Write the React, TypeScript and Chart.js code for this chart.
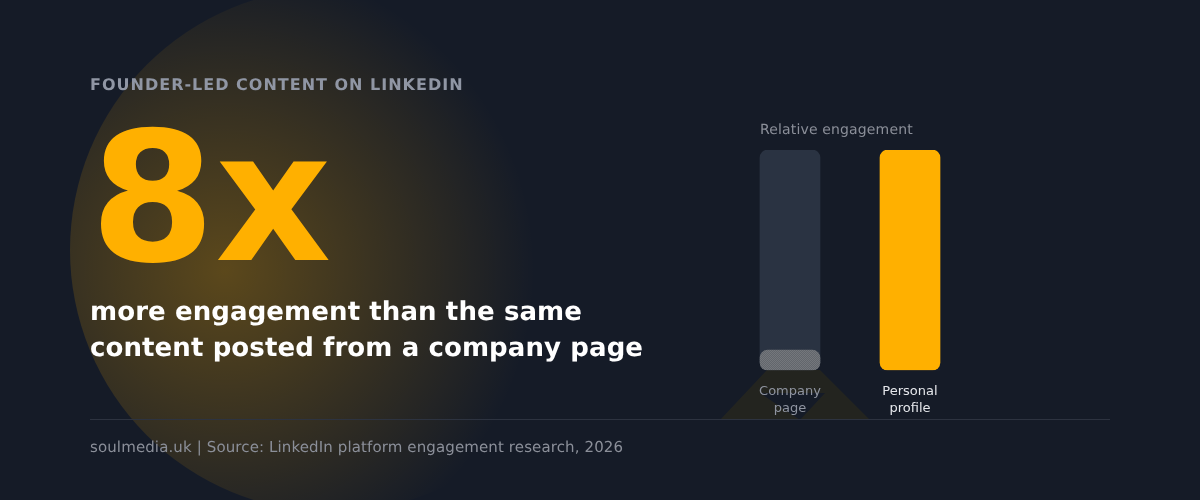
import { useEffect, useRef } from "react";
import { Chart, registerables } from "chart.js";

Chart.register(...registerables);

const FONT = "'DejaVu Sans', sans-serif";

const categories = [["Company", "page"], ["Personal", "profile"]];
const trackValues = [100, 0];
const engagementValues = [9.1, 100];
const tickColors = ["#8f94a0", "#e5e7eb"];
const subtitleLines = ["more engagement than the same", "content posted from a company page"];

// the company bar has a fine dotted texture in the reference
function dottedFill() {
  const tile = document.createElement("canvas");
  tile.width = 2;
  tile.height = 2;
  const t = tile.getContext("2d")!;
  t.fillStyle = "#62666c";
  t.fillRect(0, 0, 2, 2);
  t.fillStyle = "#74777c";
  t.fillRect(0, 0, 1, 1);
  t.fillRect(1, 1, 1, 1);
  return t.createPattern(tile, "repeat")!;
}

function label(ctx: any, text: string, x: number, y: number, font: string, color: string, spacing: number) {
  ctx.font = font;
  ctx.letterSpacing = `${spacing}px`;
  ctx.fillStyle = color;
  ctx.fillText(text, x, y);
}

// everything that is not a bar goes on the canvas around the chart area
const backdrop = {
  id: "backdrop",
  beforeDraw(chart: any) {
    const ctx = chart.ctx;
    ctx.save();
    ctx.fillStyle = "#151b27";
    ctx.fillRect(0, 0, 1200, 500);

    const glow = ctx.createRadialGradient(225, 270, 0, 225, 270, 310);
    glow.addColorStop(0, "rgba(255,176,0,0.3)");
    glow.addColorStop(1, "rgba(255,176,0,0)");
    ctx.fillStyle = glow;
    ctx.beginPath();
    ctx.arc(332, 250, 262, 0, Math.PI * 2);
    ctx.fill();

    // faint shape under the company bar, with a wedge cut out behind the label
    ctx.fillStyle = "rgba(96,77,0,0.2)";
    ctx.beginPath();
    ctx.moveTo(767, 370);
    ctx.lineTo(820, 370);
    ctx.lineTo(870, 420);
    ctx.lineTo(720, 420);
    ctx.closePath();
    ctx.moveTo(760, 393);
    ctx.lineTo(825, 393);
    ctx.lineTo(800, 420);
    ctx.closePath();
    ctx.fill("evenodd");

    ctx.strokeStyle = "#2d3340";
    ctx.lineWidth = 1;
    ctx.beginPath();
    ctx.moveTo(90, 419.5);
    ctx.lineTo(1110, 419.5);
    ctx.stroke();
    ctx.restore();
  },
  afterDraw(chart: any) {
    const ctx = chart.ctx;
    ctx.save();
    ctx.textBaseline = "alphabetic";
    ctx.textAlign = "left";

    ctx.font = `bold 180px ${FONT}`;
    ctx.fillStyle = "#ffb000";
    ctx.fillText("8x", 90, 260);

    ctx.textRendering = "geometricPrecision";
    label(ctx, "FOUNDER-LED CONTENT ON LINKEDIN", 90, 90, `bold 16px ${FONT}`, "#9096a4", 1);
    label(ctx, subtitleLines[0], 90, 320, `bold 26px ${FONT}`, "#ffffff", 0.1);
    label(ctx, subtitleLines[1], 90, 356, `bold 26px ${FONT}`, "#ffffff", 0.1);
    label(ctx, "Relative engagement", 760, 134, `14px ${FONT}`, "#8b8f99", 0.15);
    label(
      ctx,
      "soulmedia.uk | Source: LinkedIn platform engagement research, 2026",
      90,
      452,
      `15px ${FONT}`,
      "#8b8f99",
      0.12
    );
    ctx.restore();
  },
};

export default function App() {
  const canvasRef = useRef<HTMLCanvasElement>(null);

  useEffect(() => {
    document.body.style.margin = "0";
    const chart = new Chart(canvasRef.current!, {
      type: "bar",
      data: {
        labels: categories,
        datasets: [
          {
            data: trackValues,
            backgroundColor: "#2a3342",
            borderRadius: 8,
            borderSkipped: false,
            barThickness: 60,
            grouped: false,
            order: 2,
          },
          {
            data: engagementValues,
            backgroundColor: [dottedFill(), "#ffb000"],
            borderRadius: 8,
            borderSkipped: false,
            barThickness: 60,
            grouped: false,
            order: 1,
          },
        ],
      },
      options: {
        animation: false,
        responsive: false,
        layout: { padding: { left: 730, right: 230, top: 150, bottom: 78 } },
        plugins: { legend: { display: false }, tooltip: { enabled: false } },
        scales: {
          x: {
            grid: { display: false },
            border: { display: false },
            ticks: {
              color: tickColors,
              font: { family: FONT, size: 13, lineHeight: 1.3 },
              padding: 5,
              maxRotation: 0,
            },
          },
          y: { display: false, min: 0, max: 100 },
        },
      },
      plugins: [backdrop],
    });
    return () => chart.destroy();
  }, []);

  return <canvas ref={canvasRef} width={1200} height={500} style={{ display: "block" }} />;
}
